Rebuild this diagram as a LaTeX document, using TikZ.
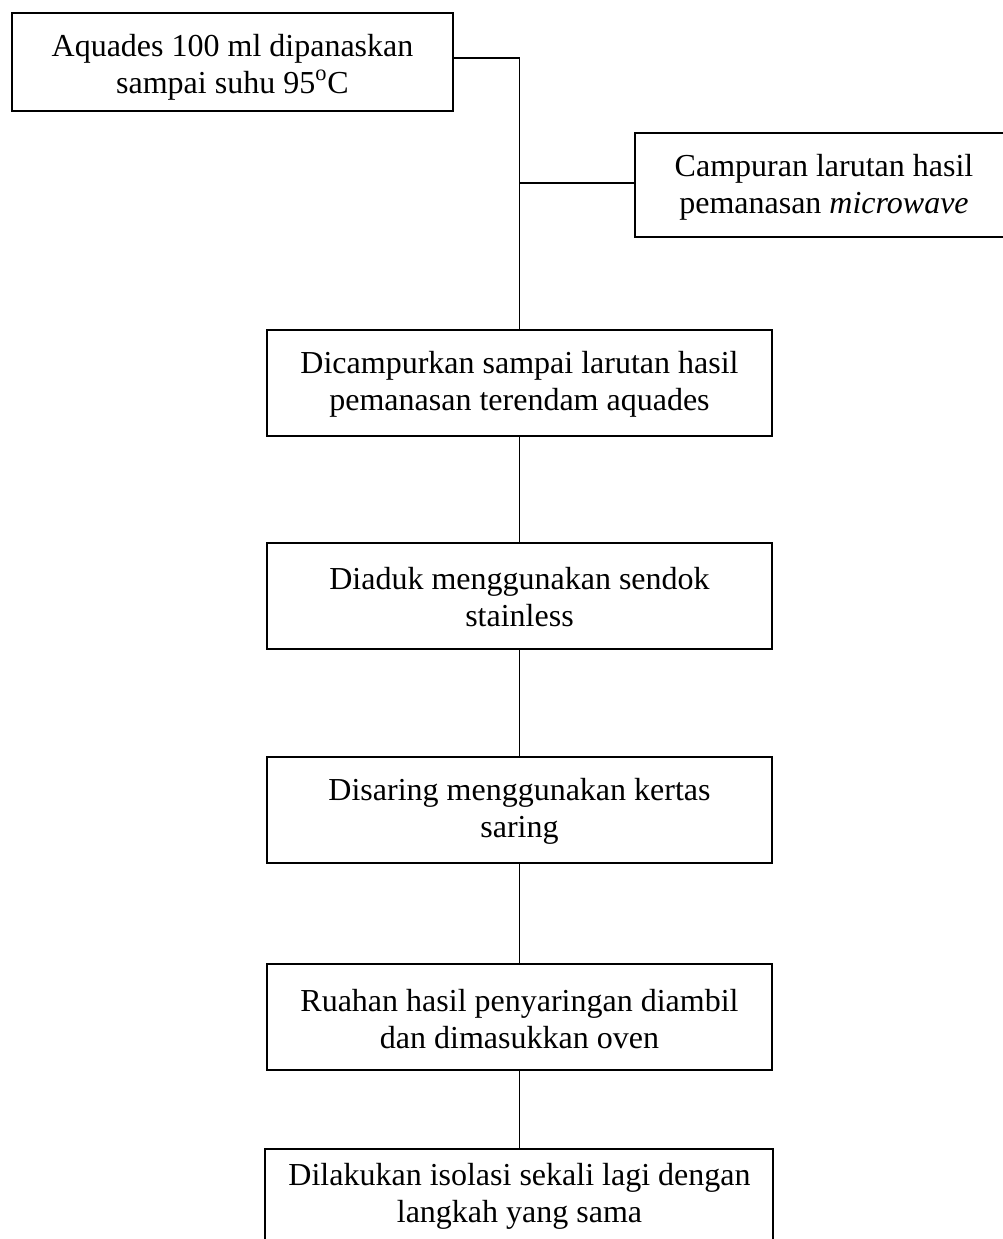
\documentclass[tikz,border=0pt]{standalone}
\usepackage{fontspec}
\setmainfont{Liberation Serif}
\begin{document}
\begin{tikzpicture}[x=0.5pt,y=-0.5pt,
  frame/.style={draw, line width=1pt, inner sep=0pt},
  txt/.style={align=center, inner sep=0pt, font=\fontsize{16}{18.4}\selectfont},
  conn/.style={line width=0.55pt}]
\useasboundingbox (0,0) rectangle (1003,1239);
\clip (0,0) rectangle (1003,1239);
% boxes
\node[frame, minimum width=220.5pt, minimum height=49pt] (top) at (232.5,62) {};
\node[frame, minimum width=205pt, minimum height=52pt] (side) at (840,185) {};
\node[frame, minimum width=252.5pt, minimum height=53pt] (b1) at (519.5,383) {};
\node[frame, minimum width=252.5pt, minimum height=53pt] (b2) at (519.5,596) {};
\node[frame, minimum width=252.5pt, minimum height=53pt] (b3) at (519.5,810) {};
\node[frame, minimum width=252.5pt, minimum height=53pt] (b4) at (519.5,1017) {};
\node[frame, minimum width=254pt, minimum height=53pt] (b5) at (518.5,1202) {};
% texts
\node[txt] (ttop) at (232.5,67) {Aquades 100 ml dipanaskan\\sampai suhu 95\textsuperscript{o}C};
\node[txt] (tside) at (824,187) {Campuran larutan hasil\\pemanasan \textit{microwave}};
\node[txt] (t1) at (519.5,384) {Dicampurkan sampai larutan hasil\\pemanasan terendam aquades};
\node[txt] (t2) at (519.5,597) {Diaduk menggunakan sendok\\stainless};
\node[txt] (t3) at (519.5,811) {Disaring menggunakan kertas\\saring};
\node[txt] (t4) at (519.5,1019) {Ruahan hasil penyaringan diambil\\dan dimasukkan oven};
\node[txt] (t5) at (519.5,1196) {Dilakukan isolasi sekali lagi dengan\\langkah yang sama};
% connectors
\draw[conn] ([yshift=2pt]top.east) -| (b1.north);
\draw[conn] ([yshift=1pt]side.west) -- ([yshift=1pt]side.west -| b1.north);
\draw[conn] (b1.south) -- (b2.north);
\draw[conn] (b2.south) -- (b3.north);
\draw[conn] (b3.south) -- (b4.north);
\draw[conn] (b4.south) -- (b4.south |- b5.north);
\end{tikzpicture}
\end{document}
